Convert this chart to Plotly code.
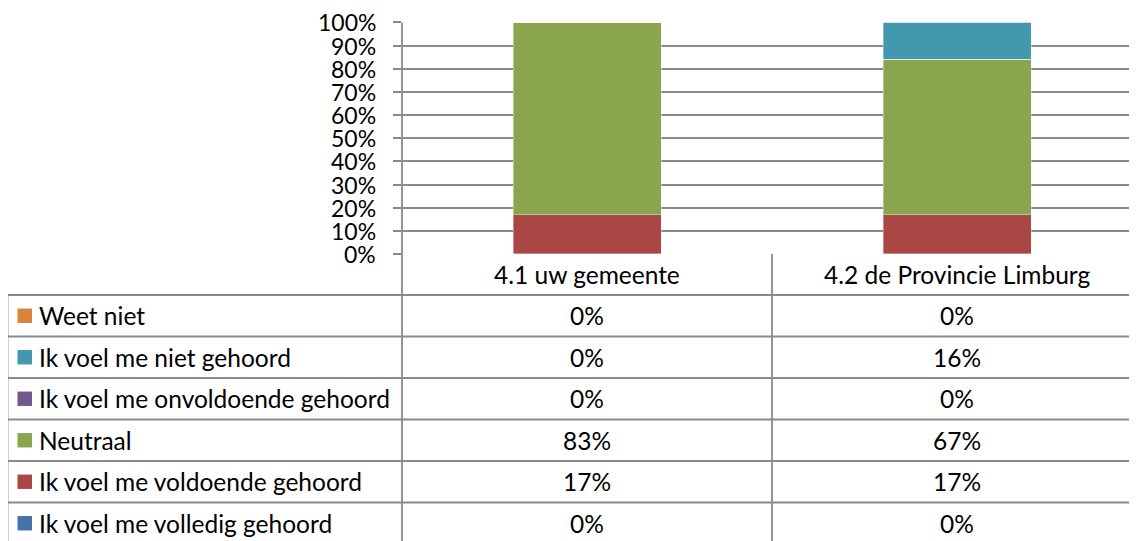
import plotly.graph_objects as go

# ---- data ----
categories = ["4.1 uw gemeente", "4.2 de Provincie Limburg"]
series_names = ["Weet niet", "Ik voel me niet gehoord", "Ik voel me onvoldoende gehoord",
                "Neutraal", "Ik voel me voldoende gehoord", "Ik voel me volledig gehoord"]
weet_niet = [0, 0]
niet_gehoord = [0, 16]
onvoldoende_gehoord = [0, 0]
neutraal = [83, 67]
voldoende_gehoord = [17, 17]
volledig_gehoord = [0, 0]
y_ticks = [0, 10, 20, 30, 40, 50, 60, 70, 80, 90, 100]
y_tick_labels = [f"{v}%" for v in y_ticks]

series_values = [weet_niet, niet_gehoord, onvoldoende_gehoord, neutraal,
                 voldoende_gehoord, volledig_gehoord]
colors = ["#DB843D", "#4198AF", "#71588F", "#89A54E", "#AA4643", "#4572A7"]

# page body margin compensation (reference pixel coords -> figure coords)
OX, OY = 8, 8
PAGE_W, PAGE_H = 1137, 541
W, H = PAGE_W - OX, PAGE_H - OY
FONT = "Lato"
FS = 24.5
TFS = 23
LINE = "#8a8a8a"
LW = 1.8

def px(x):
    return (x - OX) / W

def py(y):
    return 1 - (y - OY) / H

plot_left, plot_right = 402, PAGE_W
plot_top, plot_bottom = 22.4, 254
cat_w = 370  # pixels per category
Y_MAX = 100.2

fig = go.Figure()
# stack bottom-to-top: reverse of table order
for name, vals, col in reversed(list(zip(series_names, series_values, colors))):
    fig.add_trace(go.Bar(
        x=list(range(len(categories))), y=vals, name=name, width=0.4,
        marker=dict(color=col, line=dict(color="rgba(255,255,255,0.45)", width=0.8)),
        showlegend=False, hoverinfo="skip"))

fig.update_layout(
    template="none",
    width=W, height=H, barmode="stack",
    margin=dict(l=0, r=0, t=0, b=0, pad=0),
    paper_bgcolor="white", plot_bgcolor="white",
    font=dict(family=FONT, size=FS, color="black"),
    xaxis=dict(domain=[px(plot_left), 1], range=[-0.5, (plot_right - plot_left) / cat_w - 0.5],
               automargin=False,
               showticklabels=False, showgrid=False, zeroline=False, showline=False, ticks=""),
    yaxis=dict(domain=[py(plot_bottom), py(plot_top - 231.6 * (Y_MAX - 100) / 100)],
               range=[0, Y_MAX], automargin=False,
               tickvals=y_ticks, showticklabels=False,
               showgrid=True, gridcolor=LINE, gridwidth=LW, zeroline=False, showline=False,
               ticks="outside", ticklen=8, tickcolor=LINE, tickwidth=LW),
)

shapes = []
def hline(y, x0, x1):
    shapes.append(dict(type="line", xref="paper", yref="paper", x0=px(x0), x1=px(x1),
                       y0=py(y), y1=py(y), line=dict(color=LINE, width=LW)))
def vline(x, y0, y1):
    shapes.append(dict(type="line", xref="paper", yref="paper", x0=px(x), x1=px(x),
                       y0=py(y0), y1=py(y1), line=dict(color=LINE, width=LW)))

table_left = 7
row_h = 41.5
header_top = plot_bottom
header_bot = 295
row_edges = [header_bot + i * row_h for i in range(len(series_names) + 1)]

vline(plot_left, plot_top, PAGE_H + 5)
vline(plot_left + cat_w, header_top, PAGE_H + 5)
vline(table_left + 0.5, header_bot, PAGE_H + 5)
for y in row_edges[:-1]:
    hline(y, table_left, PAGE_W + 5)

annotations = []
# y tick labels (placed on the y axis scale)
for v, t in zip(y_ticks, y_tick_labels):
    annotations.append(dict(text=t, x=px(377.5), y=v, xref="paper", yref="y",
                            showarrow=False, xanchor="right", yanchor="middle",
                            font=dict(family=FONT, size=TFS, color="black")))

col_centers = [plot_left + cat_w * (i + 0.5) for i in range(len(categories))]
header_mid = (header_top + header_bot) / 2
for c, cx in zip(categories, col_centers):
    annotations.append(dict(text=c, x=px(cx), y=py(header_mid), xref="paper", yref="paper",
                            showarrow=False, xanchor="center", yanchor="middle",
                            font=dict(family=FONT, size=FS, color="black")))

for i, (name, vals, col) in enumerate(zip(series_names, series_values, colors)):
    mid = row_edges[i] + row_h / 2
    shapes.append(dict(type="rect", xref="paper", yref="paper",
                       x0=px(17.5), x1=px(32), y0=py(mid - 7.2), y1=py(mid + 7.2),
                       fillcolor=col, line=dict(width=0)))
    annotations.append(dict(text=name, x=px(37), y=py(mid), xref="paper", yref="paper",
                            showarrow=False, xanchor="left", yanchor="middle",
                            font=dict(family=FONT, size=FS, color="black")))
    for v, cx in zip(vals, col_centers):
        annotations.append(dict(text=f"{v}%", x=px(cx), y=py(mid), xref="paper", yref="paper",
                                showarrow=False, xanchor="center", yanchor="middle",
                                font=dict(family=FONT, size=FS, color="black")))

fig.update_layout(shapes=shapes, annotations=annotations)
fig.write_html("out.html")
